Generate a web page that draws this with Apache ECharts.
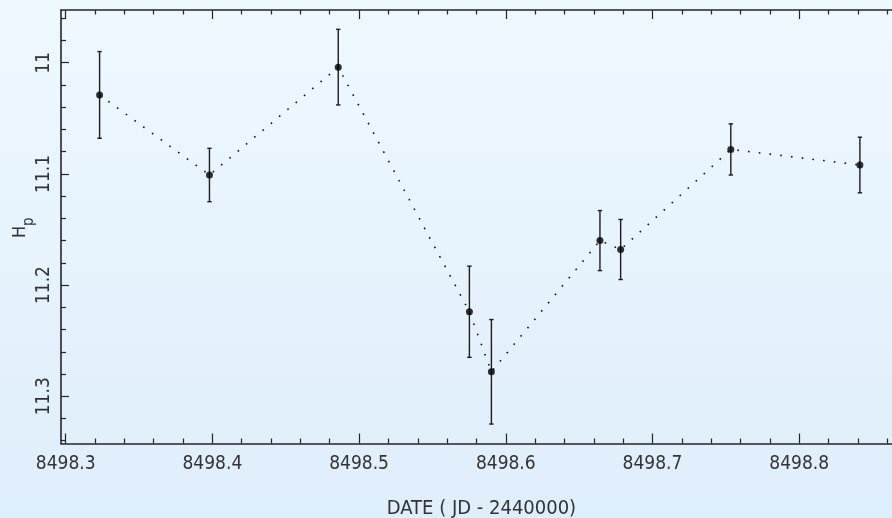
<!DOCTYPE html>
<html>
<head>
<meta charset="utf-8">
<script src="https://cdn.jsdelivr.net/npm/echarts@6/dist/echarts.min.js"></script>
<style>
  html, body { margin: 0; padding: 0; }
  #chart { width: 892px; height: 518px; }
</style>
</head>
<body>
<div id="chart"></div>
<script>
// Light curve: Hipparcos magnitude Hp against date (JD - 2440000)
const dates = [8498.3231, 8498.3980, 8498.4858, 8498.5752, 8498.5902, 8498.6642, 8498.6783, 8498.7534, 8498.8414];
const hp    = [11.029, 11.101, 11.004, 11.224, 11.278, 11.160, 11.168, 11.078, 11.092];
const hpErr = [0.039, 0.024, 0.034, 0.041, 0.047, 0.027, 0.027, 0.023, 0.025];

// Tick positions
const xMajorTicks = [8498.3, 8498.4, 8498.5, 8498.6, 8498.7, 8498.8];
const xMinorTicks = [8498.32, 8498.34, 8498.36, 8498.38, 8498.42, 8498.44, 8498.46, 8498.48,
                     8498.52, 8498.54, 8498.56, 8498.58, 8498.62, 8498.64, 8498.66, 8498.68,
                     8498.72, 8498.74, 8498.76, 8498.78, 8498.82, 8498.84, 8498.86];
const yMajorTicks = [11, 11.1, 11.2, 11.3];
const yMinorTicks = [10.96, 10.98, 11.02, 11.04, 11.06, 11.08, 11.12, 11.14, 11.16, 11.18,
                     11.22, 11.24, 11.26, 11.28, 11.32, 11.34];

const xLabel = 'DATE ( JD - 2440000)';

// Axis ranges (the plot frame runs past the right edge of the canvas)
const X_MIN = 8498.2968, X_MAX = 8498.8701;
const Y_MIN = 10.9526, Y_MAX = 11.3425;

const FONT = "'Liberation Sans Narrow', 'DejaVu Sans Condensed', 'Liberation Sans', sans-serif";
const INK = '#262626';
const TEXT = '#333';
const AXIS_LINE = { show: true, lineStyle: { color: INK, width: 1.6 } };

const gridRect = { left: 61, top: 10, width: 841, height: 433.5, containLabel: false, outerBoundsMode: 'none' };

function xAxisDef(gridIndex, position, ticks, len, withLabels, showLine) {
  return {
    type: 'value', gridIndex: gridIndex, position: position,
    min: X_MIN, max: X_MAX,
    axisLine: showLine ? AXIS_LINE : { show: false },
    axisTick: { show: true, inside: true, length: len, customValues: ticks,
                lineStyle: { color: INK, width: 1.2 } },
    axisLabel: withLabels ? {
      show: true, customValues: ticks, margin: 11,
      fontFamily: FONT, fontSize: 19, color: TEXT,
      formatter: v => v.toFixed(1)
    } : { show: false },
    splitLine: { show: false },
    name: withLabels ? xLabel : '',
    nameLocation: 'middle', nameGap: 55,
    nameTextStyle: { fontFamily: FONT, fontSize: 20, color: TEXT }
  };
}

function yAxisDef(gridIndex, ticks, len, withLabels, showLine) {
  return {
    type: 'value', gridIndex: gridIndex, position: 'left', inverse: true,
    min: Y_MIN, max: Y_MAX,
    axisLine: showLine ? AXIS_LINE : { show: false },
    axisTick: { show: true, inside: true, length: len, customValues: ticks,
                lineStyle: { color: INK, width: 1.2 } },
    axisLabel: withLabels ? {
      show: true, customValues: ticks, margin: 7, rotate: 90,
      fontFamily: FONT, fontSize: 19, color: TEXT,
      formatter: v => (Math.round(v * 10) / 10).toString()
    } : { show: false },
    splitLine: { show: false }
  };
}

const chart = echarts.init(document.getElementById('chart'), null, { renderer: 'canvas' });

chart.setOption({
  animation: false,
  backgroundColor: {
    type: 'linear', x: 0, y: 0, x2: 0, y2: 1,
    colorStops: [{ offset: 0, color: '#eef8ff' }, { offset: 1, color: '#dfeefb' }]
  },
  grid: [gridRect, Object.assign({}, gridRect)],
  xAxis: [
    xAxisDef(0, 'bottom', xMajorTicks, 10, true, true),
    xAxisDef(0, 'top', xMajorTicks, 9, false, true),
    xAxisDef(1, 'bottom', xMinorTicks, 5, false, false),
    xAxisDef(1, 'top', xMinorTicks, 4.5, false, false)
  ],
  yAxis: [
    yAxisDef(0, yMajorTicks, 8, true, true),
    yAxisDef(1, yMinorTicks, 5, false, false)
  ],
  graphic: [{
    type: 'group', x: 11, y: 238, rotation: Math.PI / 2,
    children: [
      { type: 'text', x: 0, y: 0,
        style: { text: 'H', fontFamily: FONT, fontSize: 18, fill: TEXT, textVerticalAlign: 'top' } },
      { type: 'text', x: 12, y: 11,
        style: { text: 'p', fontFamily: FONT, fontSize: 15, fill: TEXT, textVerticalAlign: 'top' } }
    ]
  }],
  series: [
    {
      // dotted connecting line
      type: 'line', xAxisIndex: 0, yAxisIndex: 0,
      data: dates.map((d, i) => [d, hp[i]]),
      symbol: 'none', silent: true,
      lineStyle: { color: '#111', width: 1.6, type: [1.6, 9.2] },
      z: 2
    },
    {
      // error bars
      type: 'custom', xAxisIndex: 0, yAxisIndex: 0,
      data: dates.map((d, i) => [d, hp[i] - hpErr[i], hp[i] + hpErr[i]]),
      renderItem: function (params, api) {
        const lo = api.coord([api.value(0), api.value(1)]);
        const hi = api.coord([api.value(0), api.value(2)]);
        const cap = 2.2;
        const style = { stroke: '#1c1c1c', lineWidth: 1.4 };
        return {
          type: 'group',
          children: [
            { type: 'line', shape: { x1: lo[0], y1: lo[1], x2: hi[0], y2: hi[1] }, style: style },
            { type: 'line', shape: { x1: lo[0] - cap, y1: lo[1], x2: lo[0] + cap, y2: lo[1] }, style: style },
            { type: 'line', shape: { x1: hi[0] - cap, y1: hi[1], x2: hi[0] + cap, y2: hi[1] }, style: style }
          ]
        };
      },
      z: 3
    },
    {
      // measurements
      type: 'scatter', xAxisIndex: 0, yAxisIndex: 0,
      data: dates.map((d, i) => [d, hp[i]]),
      symbol: 'circle', symbolSize: 7,
      itemStyle: { color: '#000' },
      z: 4
    }
  ]
});
</script>
</body>
</html>
